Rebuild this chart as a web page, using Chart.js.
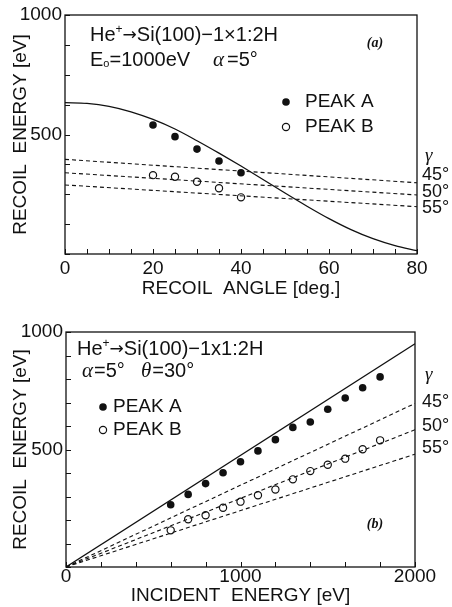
<!DOCTYPE html>
<html>
<head>
<meta charset="utf-8">
<script src="https://cdn.jsdelivr.net/npm/chart.js@4.4.1/dist/chart.umd.min.js"></script>
<style>
  html, body { margin: 0; padding: 0; background: #fff; }
  #wrap { position: relative; width: 452px; height: 607px; }
  .panel { position: absolute; left: 0; width: 452px; }
  #pa { top: 0; height: 300px; }
  #pb { top: 300px; height: 307px; }
</style>
</head>
<body>
<div id="wrap">
  <div class="panel" id="pa"><canvas id="chartA"></canvas></div>
  <div class="panel" id="pb"><canvas id="chartB"></canvas></div>
</div>
<script>
// ---- Panel (a): recoil energy vs recoil angle ----
const angleA   = [20, 25, 30, 35, 40];
const peakA_a  = [540, 491, 439, 389, 340];
const peakB_a  = [330, 323, 302, 275, 237];

const curveAngle  = [0, 5, 10, 15, 20, 25, 30, 35, 40, 45, 50, 55, 60, 65, 70, 75, 80];
const curveEnergy = [633, 630, 618, 595, 563, 523, 474, 422, 368, 312, 255, 200, 148, 102, 64, 35, 14];

const gammaEndsX_a = [0, 80];
const gamma45_a = [396, 298];
const gamma50_a = [340, 247];
const gamma55_a = [289, 198];

const xTicksA      = [0, 5, 10, 15, 20, 25, 30, 35, 40, 45, 50, 55, 60, 65, 70, 75, 80];
const xLabelsA     = [0, 20, 40, 60, 80];
const yTicksA      = [0, 125, 250, 375, 500, 625, 750, 875, 1000];
const yLabelsA     = [500, 1000];

// ---- Panel (b): recoil energy vs incident energy ----
const incident = [600, 700, 800, 900, 1000, 1100, 1200, 1300, 1400, 1500, 1600, 1700, 1800];
const peakA_b  = [265, 309, 355, 401, 448, 494, 542, 594, 617, 671, 719, 763, 809];
const peakB_b  = [156, 203, 220, 252, 278, 305, 330, 373, 408, 435, 461, 501, 539];

const lineEndsX_b = [0, 2000];
const solid_b     = [0, 950];
const gamma45_b   = [0, 696];
const gamma50_b   = [0, 584];
const gamma55_b   = [0, 480];

const xTicksB  = [0, 200, 400, 600, 800, 1000, 1200, 1400, 1600, 1800, 2000];
const xLabelsB = [0, 1000, 2000];
const yTicksB  = [0, 100, 200, 300, 400, 500, 600, 700, 800, 900, 1000];
const yLabelsB = [500, 1000];

const INK  = '#111';
const SANS = 'Liberation Sans, Arial, sans-serif';
const SERIF = 'Liberation Serif, Times New Roman, serif';
const ARROW = 'DejaVu Sans, sans-serif';

Chart.defaults.font.family = SANS;
Chart.defaults.color = INK;

const pts = (xs, ys) => xs.map((x, i) => ({ x, y: ys[i] }));

// ---- helpers ----
function drawRuns(ctx, x, y, runs) {
  runs.forEach(r => {
    ctx.font = r.font;
    ctx.fillText(r.t, x, y + (r.dy || 0));
    x += ctx.measureText(r.t).width + (r.gap || 0);
  });
}

const frameTicks = {
  id: 'frameTicks',
  afterDraw(chart) {
    const { ctx, chartArea: a, scales } = chart;
    ctx.save();
    ctx.strokeStyle = INK;
    ctx.lineWidth = 1.3;
    ctx.strokeRect(a.left, a.top, a.right - a.left, a.bottom - a.top);
    ctx.lineWidth = 1;
    ctx.beginPath();
    scales.x.ticks.forEach(t => {
      const px = Math.round(scales.x.getPixelForValue(t.value)) + 0.5;
      ctx.moveTo(px, a.bottom); ctx.lineTo(px, a.bottom - 5);
    });
    scales.y.ticks.forEach(t => {
      const py = Math.round(scales.y.getPixelForValue(t.value)) + 0.5;
      ctx.moveTo(a.left, py); ctx.lineTo(a.left + 5, py);
    });
    ctx.stroke();
    ctx.restore();
  }
};

function legend(ctx, cx, yA, yB, textX) {
  ctx.fillStyle = INK;
  ctx.beginPath(); ctx.arc(cx, yA, 3.8, 0, Math.PI * 2); ctx.fill();
  ctx.strokeStyle = INK; ctx.lineWidth = 1.2;
  ctx.beginPath(); ctx.arc(cx, yB, 3.6, 0, Math.PI * 2); ctx.stroke();
  ctx.font = '19px ' + SANS;
  ctx.textBaseline = 'middle';
  ctx.fillText('PEAK A', textX, yA);
  ctx.fillText('PEAK B', textX, yB);
}

function gammaLabels(ctx, x, yG, ys) {
  ctx.textBaseline = 'middle';
  ctx.font = 'italic 19px ' + SERIF;
  ctx.fillText('\u03b3', x + 3, yG);
  ctx.font = '18px ' + SANS;
  ['45\u00b0', '50\u00b0', '55\u00b0'].forEach((s, i) => ctx.fillText(s, x, ys[i]));
}

function headline(ctx, x, y, times) {
  drawRuns(ctx, x, y, [
    { t: 'He', font: '20px ' + SANS },
    { t: '+', font: '12px ' + SANS, dy: -8 },
    { t: '\u2192', font: '17px ' + ARROW, dy: -1 },
    { t: 'Si(100)\u22121' + times + '1:2H', font: '20px ' + SANS }
  ]);
}

const notesA = {
  id: 'notesA',
  afterDraw(chart) {
    const ctx = chart.ctx;
    ctx.save();
    ctx.fillStyle = INK;
    ctx.textBaseline = 'alphabetic';
    headline(ctx, 90, 41, '\u00d7');
    drawRuns(ctx, 90, 66, [
      { t: 'E', font: '20px ' + SANS },
      { t: 'o', font: '11px ' + SANS, dy: 1 },
      { t: '=1000eV', font: '20px ' + SANS }
    ]);
    drawRuns(ctx, 213, 66, [
      { t: '\u03b1', font: 'italic 21px ' + SERIF, gap: 3 },
      { t: '=5\u00b0', font: '20px ' + SANS }
    ]);
    ctx.font = 'bold italic 14px ' + SERIF;
    ctx.textBaseline = 'middle';
    ctx.textAlign = 'center';
    ctx.fillText('(a)', 375, 43);
    ctx.textAlign = 'left';
    legend(ctx, 286, 102, 127, 305);
    gammaLabels(ctx, 422, 156, [175, 192, 208]);
    ctx.restore();
  }
};

const notesB = {
  id: 'notesB',
  afterDraw(chart) {
    const ctx = chart.ctx;
    ctx.save();
    ctx.fillStyle = INK;
    ctx.textBaseline = 'alphabetic';
    headline(ctx, 77, 55, 'x');
    drawRuns(ctx, 82, 77, [
      { t: '\u03b1', font: 'italic 21px ' + SERIF, gap: 1 },
      { t: '=5\u00b0', font: '20px ' + SANS }
    ]);
    drawRuns(ctx, 141, 77, [
      { t: '\u03b8', font: 'italic 21px ' + SERIF, gap: 1 },
      { t: '=30\u00b0', font: '20px ' + SANS }
    ]);
    ctx.font = 'bold italic 14px ' + SERIF;
    ctx.textBaseline = 'middle';
    ctx.textAlign = 'center';
    ctx.fillText('(b)', 375, 224);
    ctx.textAlign = 'left';
    legend(ctx, 103, 107, 130, 113);
    gammaLabels(ctx, 422, 75, [102, 126, 148]);
    ctx.restore();
  }
};

// ---- dataset builders ----
const filledSet = data => ({
  data, showLine: false, pointRadius: 3.8, pointBackgroundColor: INK, pointBorderWidth: 0
});
const hollowSet = data => ({
  data, showLine: false, pointRadius: 3.6, pointBackgroundColor: '#fff',
  pointBorderColor: INK, pointBorderWidth: 1.2
});
const dashSet = data => ({
  data, showLine: true, pointRadius: 0, borderColor: INK, borderWidth: 1.1, borderDash: [4, 3]
});
const solidSet = (data, tension) => ({
  data, showLine: true, pointRadius: 0, borderColor: INK, borderWidth: 1.3,
  tension: tension || 0, cubicInterpolationMode: tension ? 'monotone' : 'default'
});

function axis(min, max, tickList, labelList, title, titlePad, tickPad, extra) {
  return Object.assign({
    type: 'linear', min, max,
    grid: { display: false, drawTicks: false },
    border: { display: false },
    afterBuildTicks: s => { s.ticks = tickList.map(v => ({ value: v })); },
    ticks: {
      autoSkip: false, maxRotation: 0, padding: tickPad,
      font: { size: 19 }, color: INK,
      callback: v => labelList.includes(v) ? String(v) : ''
    },
    title: { display: true, text: title, font: { size: 19 }, color: INK, padding: titlePad }
  }, extra);
}

function makeChart(id, datasets, scales, padding, notes) {
  return new Chart(document.getElementById(id), {
    type: 'scatter',
    data: { datasets },
    options: {
      responsive: true,
      maintainAspectRatio: false,
      animation: false,
      layout: { padding },
      plugins: { legend: { display: false }, tooltip: { enabled: false } },
      scales
    },
    plugins: [frameTicks, notes]
  });
}

makeChart('chartA', [
  solidSet(pts(curveAngle, curveEnergy), 0.4),
  dashSet(pts(gammaEndsX_a, gamma45_a)),
  dashSet(pts(gammaEndsX_a, gamma50_a)),
  dashSet(pts(gammaEndsX_a, gamma55_a)),
  filledSet(pts(angleA, peakA_a)),
  hollowSet(pts(angleA, peakB_a))
], {
  x: axis(0, 80, xTicksA, xLabelsA, 'RECOIL  ANGLE [deg.]', { top: 0, bottom: 0 }, 3,
    { afterFit: s => { s.height = 46; } }),
  y: axis(0, 1000, yTicksA, yLabelsA, 'RECOIL  ENERGY [eV]', { top: 9, bottom: 0 }, 3,
    { afterFit: s => { s.width = 65; } })
}, { top: 15, right: 35, left: 0, bottom: 0 }, notesA);

makeChart('chartB', [
  solidSet(pts(lineEndsX_b, solid_b)),
  dashSet(pts(lineEndsX_b, gamma45_b)),
  dashSet(pts(lineEndsX_b, gamma50_b)),
  dashSet(pts(lineEndsX_b, gamma55_b)),
  filledSet(pts(incident, peakA_b)),
  hollowSet(pts(incident, peakB_b))
], {
  x: axis(0, 2000, xTicksB, xLabelsB, 'INCIDENT  ENERGY [eV]', { top: 0, bottom: 0 }, -2,
    { afterFit: s => { s.height = 40; } }),
  y: axis(0, 1000, yTicksB, yLabelsB, 'RECOIL  ENERGY [eV]', { top: 9, bottom: 0 }, 3,
    { afterFit: s => { s.width = 66; } })
}, { top: 32, right: 37, left: 0, bottom: 0 }, notesB);
</script>
</body>
</html>
